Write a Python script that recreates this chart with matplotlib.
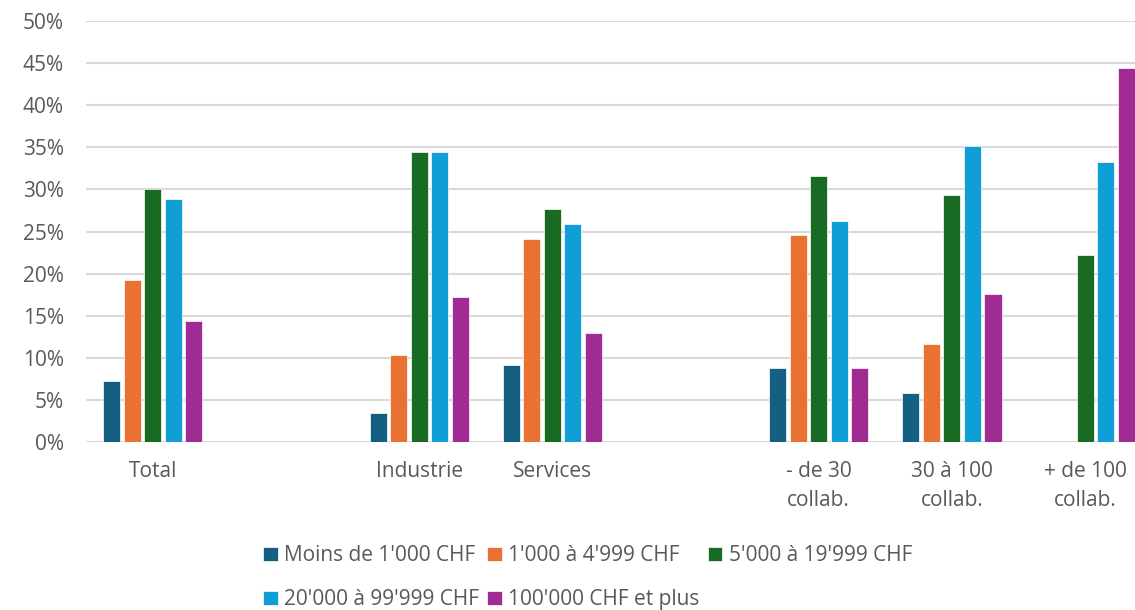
import numpy as np
import matplotlib.pyplot as plt
from matplotlib.ticker import PercentFormatter

# categories (empty slots are gaps in the original chart)
categories = ["Total", "", "Industrie", "Services", "",
              "- de 30\ncollab.", "30 à 100\ncollab.", "+ de 100\ncollab."]

series_names = ["Moins de 1'000 CHF", "1'000 à 4'999 CHF", "5'000 à 19'999 CHF",
                "20'000 à 99'999 CHF", "100'000 CHF et plus"]

moins_1000 = [7.2, np.nan, 3.4, 9.2, np.nan, 8.8, 5.8, 0.0]
de_1000_4999 = [19.2, np.nan, 10.3, 24.1, np.nan, 24.6, 11.7, 0.0]
de_5000_19999 = [30.1, np.nan, 34.5, 27.7, np.nan, 31.6, 29.4, 22.2]
de_20000_99999 = [28.9, np.nan, 34.5, 25.9, np.nan, 26.3, 35.2, 33.3]
plus_100000 = [14.4, np.nan, 17.2, 13.0, np.nan, 8.8, 17.6, 44.4]

series = [moins_1000, de_1000_4999, de_5000_19999, de_20000_99999, plus_100000]
colors = ["#156082", "#E97132", "#196B24", "#0F9ED5", "#A02B93"]

plt.rcParams['font.family'] = ['Open Sans', 'DejaVu Sans']
txt_color = "#595959"
fs = 15

fig = plt.figure(figsize=(11.35, 6.10), dpi=100)
ax = fig.add_axes([0.0758, 0.2754, 0.939, 0.690])

x = np.arange(len(categories))
step = 0.154
bars = []
for i, (vals, col) in enumerate(zip(series, colors)):
    b = ax.bar(x + (i - 2) * step, np.array(vals) / 100, width=0.128,
               color=col, edgecolor="white", linewidth=0.5, zorder=3,
               label=series_names[i])
    bars.append(b)

ax.set_xlim(-0.5, len(categories) - 0.5)
ax.set_ylim(0, 0.5)
ax.set_yticks(np.arange(0, 0.51, 0.05))
ax.yaxis.set_major_formatter(PercentFormatter(1.0, decimals=0))
ax.grid(axis="y", color="#d9d9d9", linewidth=1.5, zorder=0)
for s in ax.spines.values():
    s.set_visible(False)
ax.tick_params(axis="both", length=0, labelsize=fs, colors=txt_color)
ax.tick_params(axis="y", pad=16)
ax.tick_params(axis="x", pad=14)
ax.set_xticks(x)
ax.set_xticklabels(categories, linespacing=1.5)

# legend: reorder so rows read left to right
order = [0, 3, 1, 4, 2]
handles = [bars[k] for k in order]
labels = [series_names[k] for k in order]
fig.legend(handles, labels, ncol=3, loc="upper left",
           bbox_to_anchor=(0.2245, 0.1196), frameon=False,
           fontsize=fs, labelcolor=txt_color,
           handlelength=0.7, handleheight=0.7, handletextpad=0.3,
           columnspacing=0.4, labelspacing=1.1, borderaxespad=0)

fig.savefig("out.png", dpi=100)
